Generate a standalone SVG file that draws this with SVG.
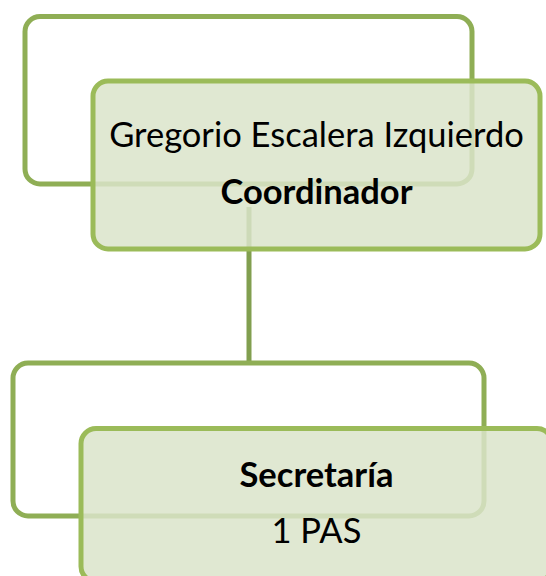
<svg xmlns="http://www.w3.org/2000/svg" width="546" height="576" viewBox="0 0 546 576">
  <style>
    .back { fill: #ffffff; stroke: #8fae55; stroke-width: 5; }
    .front { fill: #dae4ca; fill-opacity: 0.85; stroke: #9bbb59; stroke-width: 5; }
    .conn { stroke: #819f4f; stroke-width: 5; fill: none; }
    .t { font-family: Lato, "Open Sans", sans-serif; font-size: 34.5px; fill: #000000; text-anchor: middle; }
    .b { font-weight: bold; }
  </style>
  <rect width="546" height="576" fill="#ffffff"/>
  <g id="connectors">
    <line class="conn" x1="249" y1="207" x2="249" y2="362.5"/>
  </g>
  <g id="node-coordinador">
    <rect class="back" x="25" y="16.5" width="447" height="167.5" rx="15" ry="15"/>
    <rect class="front" x="93" y="81" width="447" height="168" rx="15" ry="15"/>
    <text class="t" x="316.5" y="147">Gregorio Escalera Izquierdo</text>
    <text class="t b" x="316.5" y="204">Coordinador</text>
  </g>
  <g id="node-secretaria">
    <rect class="back" x="13" y="363" width="471" height="153" rx="15" ry="15"/>
    <rect class="front" x="81" y="428.5" width="471" height="153" rx="15" ry="15"/>
    <text class="t b" x="316.5" y="487">Secretaría</text>
    <text class="t" x="316.5" y="543">1 PAS</text>
  </g>
</svg>
